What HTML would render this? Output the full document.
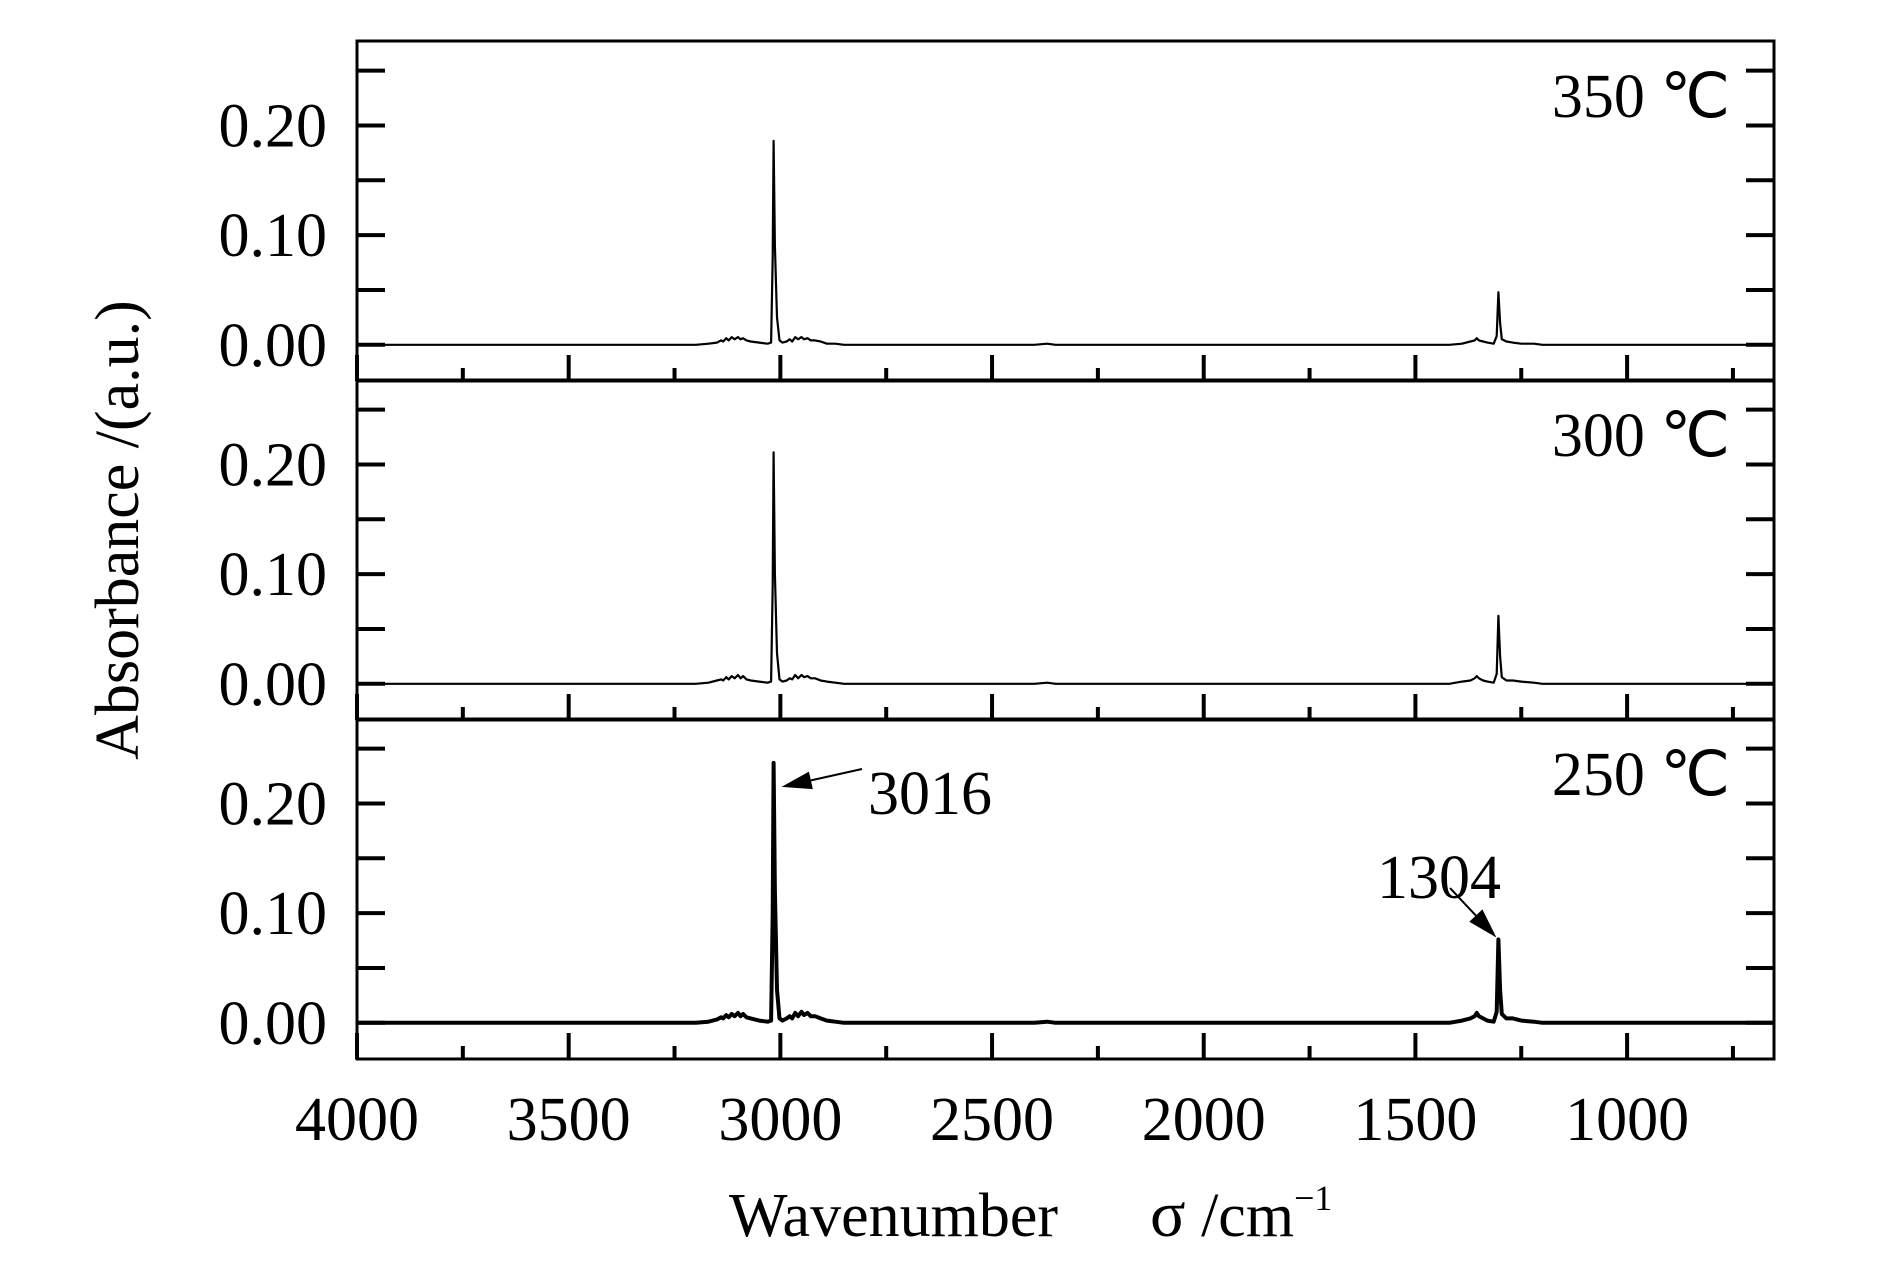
<!DOCTYPE html>
<html><head><meta charset="utf-8"><title>FTIR spectra</title>
<style>
html,body{margin:0;padding:0;background:#fff;}
svg{display:block;}
text{font-family:"Liberation Serif","Times New Roman",serif;fill:#000;}
</style></head>
<body>
<svg id="chart" width="1890" height="1276" viewBox="0 0 1890 1276" xmlns="http://www.w3.org/2000/svg">
<g id="panels"></g>
<text x="0" y="0" font-size="62" text-anchor="middle" transform="translate(138,530) rotate(-90)">Absorbance /(a.u.)</text>
<text x="729" y="1236" font-size="62">Wavenumber</text>
<text x="1150" y="1236" font-size="62"><tspan font-size="66">σ</tspan> /cm<tspan font-size="36" dy="-26">−1</tspan></text>
</svg>
<script>
const seriesLabels = ["350 ℃", "300 ℃", "250 ℃"];
const s350 = [[4000,0],[3200,0],[3170,0.001],[3150,0.002],[3140,0.004],[3135,0.003],[3128,0.006],[3122,0.004],[3115,0.007],[3108,0.005],[3100,0.007],[3094,0.005],[3088,0.006],[3080,0.004],[3070,0.003],[3050,0.002],[3030,0.001],[3022,0.002],[3018,0.08],[3016,0.186],[3013,0.09],[3008,0.025],[3002,0.004],[2995,0.002],[2985,0.003],[2978,0.005],[2972,0.003],[2965,0.007],[2958,0.005],[2950,0.007],[2944,0.005],[2936,0.006],[2928,0.004],[2918,0.004],[2905,0.003],[2890,0.001],[2870,0.001],[2850,0],[2400,0],[2370,0.001],[2350,0],[1420,0],[1390,0.001],[1370,0.003],[1360,0.004],[1355,0.006],[1350,0.004],[1340,0.003],[1330,0.002],[1315,0.001],[1308,0.008],[1304,0.048],[1300,0.02],[1296,0.005],[1285,0.003],[1270,0.002],[1250,0.001],[1220,0.001],[1200,0],[650,0]];
const s300 = [[4000,0],[3200,0],[3170,0.001],[3150,0.003],[3140,0.004],[3135,0.003],[3128,0.006],[3122,0.004],[3115,0.007],[3108,0.005],[3100,0.008],[3094,0.005],[3088,0.007],[3080,0.004],[3070,0.003],[3050,0.002],[3030,0.001],[3022,0.002],[3018,0.09],[3016,0.211],[3013,0.10],[3008,0.028],[3002,0.004],[2995,0.002],[2985,0.003],[2978,0.005],[2972,0.004],[2965,0.008],[2958,0.005],[2950,0.008],[2944,0.006],[2936,0.007],[2928,0.005],[2918,0.005],[2905,0.003],[2890,0.002],[2870,0.001],[2850,0],[2400,0],[2370,0.001],[2350,0],[1420,0],[1390,0.002],[1370,0.003],[1360,0.005],[1355,0.007],[1350,0.005],[1340,0.003],[1330,0.002],[1315,0.001],[1308,0.009],[1304,0.062],[1300,0.025],[1296,0.006],[1285,0.003],[1270,0.003],[1250,0.002],[1220,0.001],[1200,0],[650,0]];
const s250 = [[4000,0],[3200,0],[3170,0.001],[3150,0.003],[3140,0.005],[3135,0.004],[3128,0.007],[3122,0.005],[3115,0.008],[3108,0.006],[3100,0.009],[3094,0.006],[3088,0.008],[3080,0.005],[3070,0.004],[3050,0.002],[3030,0.001],[3022,0.002],[3018,0.10],[3016,0.237],[3013,0.12],[3008,0.03],[3002,0.004],[2995,0.002],[2985,0.004],[2978,0.006],[2972,0.004],[2965,0.009],[2958,0.006],[2950,0.010],[2944,0.007],[2936,0.009],[2928,0.006],[2918,0.006],[2905,0.004],[2890,0.002],[2870,0.001],[2850,0],[2400,0],[2370,0.001],[2350,0],[1420,0],[1390,0.002],[1370,0.004],[1360,0.006],[1355,0.009],[1350,0.006],[1340,0.004],[1330,0.002],[1315,0.001],[1308,0.01],[1304,0.076],[1300,0.03],[1296,0.008],[1285,0.004],[1270,0.004],[1250,0.002],[1220,0.001],[1200,0],[650,0]];
const yTickValues = [0, 0.05, 0.10, 0.15, 0.20, 0.25];
const yTickLabels = ["0.00", "", "0.10", "", "0.20", ""];
const xMajorTicks = [4000, 3500, 3000, 2500, 2000, 1500, 1000];
const xMinorTicks = [3750, 3250, 2750, 2250, 1750, 1250, 750];
const xTickLabels = ["4000", "3500", "3000", "2500", "2000", "1500", "1000"];

const NS = "http://www.w3.org/2000/svg";
const L = 357, R = 1774;
const X_MAX = 4000, X_MIN = 653;
const Y_MIN = -0.033, Y_MAX = 0.277;
const panelTops = [41, 380, 719];
const panelH = 340;
const allSeries = [s350, s300, s250];
const strokeW = [2.2, 2.2, 4];
function xs(v){ return L + (X_MAX - v) / (X_MAX - X_MIN) * (R - L); }
function ys(v, top){ return top + (Y_MAX - v) / (Y_MAX - Y_MIN) * panelH; }
function mk(tag, attrs, parent){
  const e = document.createElementNS(NS, tag);
  for (const k in attrs) e.setAttribute(k, attrs[k]);
  parent.appendChild(e); return e;
}
const root = document.getElementById("panels");
panelTops.forEach((top, i) => {
  const g = mk("g", {}, root);
  
  
  const bottom = top + panelH;
  const fr = mk("rect", {x:L, y:top, width:R-L, height:panelH, fill:"none", stroke:"#000", "stroke-width":3}, g);
  
  
  yTickValues.forEach((v, j) => {
    const y = ys(v, top);
    const t1 = mk("line", {x1:L, x2:L+28, y1:y, y2:y, stroke:"#000", "stroke-width":4}, g);
    
    
    const t2 = mk("line", {x1:R-28, x2:R, y1:y, y2:y, stroke:"#000", "stroke-width":4}, g);
    
    
    if (yTickLabels[j]) {
      const tl = mk("text", {x:327, y:y+21, "font-size":62, "text-anchor":"end"}, g);
      tl.textContent = yTickLabels[j];
      
      
    }
  });
  xMajorTicks.forEach((v, j) => {
    const x = xs(v);
    const t = mk("line", {x1:x, x2:x, y1:bottom, y2:bottom-26, stroke:"#000", "stroke-width":4}, g);
    
    
    if (i === 2) {
      const tl = mk("text", {x:x, y:1140, "font-size":62, "text-anchor":"middle"}, g);
      tl.textContent = xTickLabels[j];
      
      
    }
  });
  xMinorTicks.forEach(v => {
    if (v < X_MIN) return;
    const x = xs(v);
    const t = mk("line", {x1:x, x2:x, y1:bottom, y2:bottom-13, stroke:"#000", "stroke-width":4}, g);
    
    
  });
  const d = allSeries[i].map((p, k) => (k ? "L" : "M") + xs(p[0]).toFixed(1) + " " + ys(p[1], top).toFixed(1)).join(" ");
  const path = mk("path", {d:d, fill:"none", stroke:"#000", "stroke-width":strokeW[i], "stroke-linejoin":"round"}, g);
  
  
  const lb = mk("text", {x:1730, y:top+76, "font-size":62, "text-anchor":"end"}, g);
  lb.textContent = seriesLabels[i];
  
  
});
const ann = mk("g", {}, root);


function arrow(x1, y1, x2, y2, name){
  const ang = Math.atan2(y2 - y1, x2 - x1);
  const len = 30, w = 9;
  const bx = x2 - len * Math.cos(ang), by = y2 - len * Math.sin(ang);
  const ln = mk("line", {x1:x1, y1:y1, x2:bx, y2:by, stroke:"#000", "stroke-width":2}, ann);
  
  
  const px = -Math.sin(ang) * w, py = Math.cos(ang) * w;
  const hd = mk("polygon", {points:`${x2},${y2} ${bx+px},${by+py} ${bx-px},${by-py}`, fill:"#000"}, ann);
  
  
}
const pkTop = ys(0.237, panelTops[2]);
arrow(862, 769, xs(3016) + 8, pkTop + 24, 'arrow-3016');
const pk2 = ys(0.076, panelTops[2]);
arrow(1450, 888, xs(1304) - 2, pk2 - 2, 'arrow-1304');
const a1 = mk("text", {x:868, y:814, "font-size":62}, ann);
a1.textContent = "3016";


const a2 = mk("text", {x:1377, y:898, "font-size":62}, ann);
a2.textContent = "1304";


</script>
</body></html>
